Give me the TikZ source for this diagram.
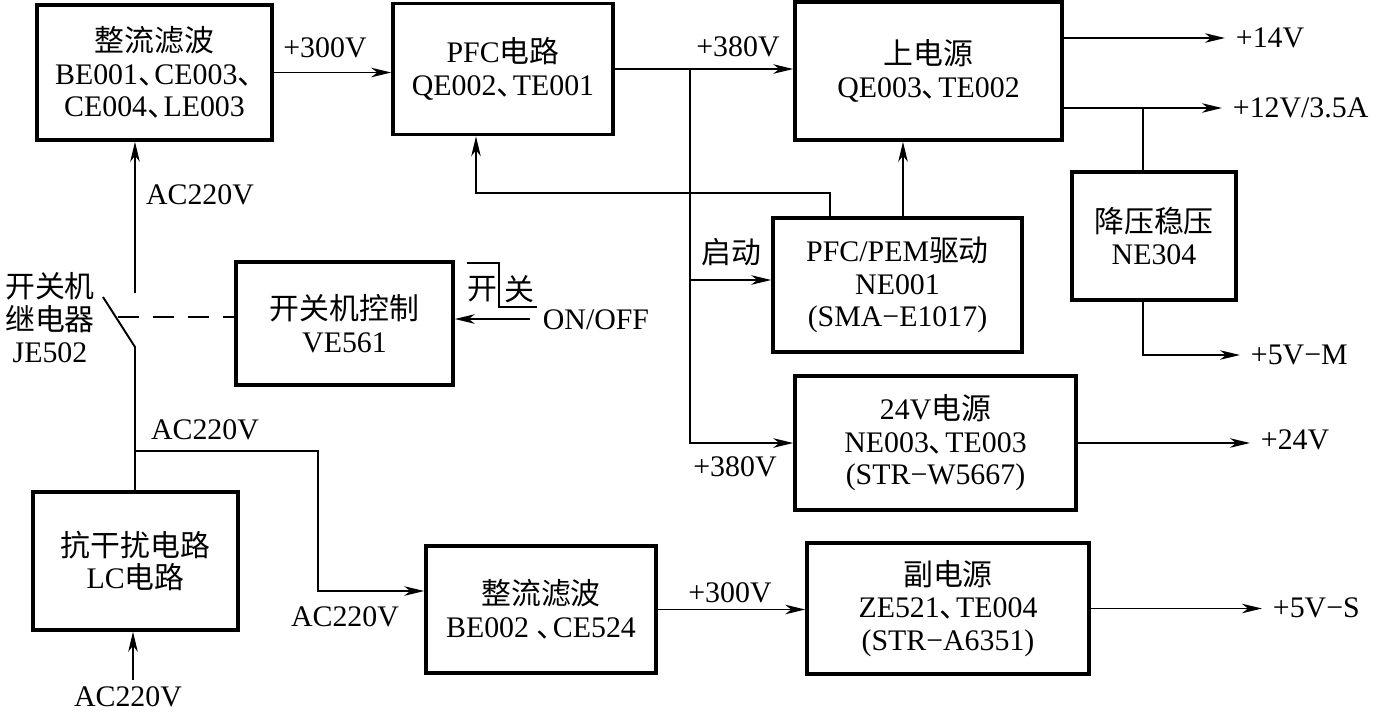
\documentclass[tikz,border=0pt]{standalone}
\usepackage{fontspec}
\setmainfont{Liberation Serif}
\newfontfamily\zh{Noto Sans CJK SC}
\usetikzlibrary{arrows.meta}
\newcommand{\dun}{\makebox[0.55em][l]{\zh 、}}

\begin{document}
\begin{tikzpicture}[
  x=0.02cm, y=-0.02cm,
  font=\fontsize{17}{18.5}\selectfont,
  box/.style={draw, line width=2pt, inner sep=0pt, align=center},
  lab/.style={inner sep=1pt},
  outlab/.style={anchor=west, inner sep=6pt},
  ln/.style={line width=1.1pt},
  ar/.style={ln, -{Stealth[length=4mm, width=1.9mm, inset=1.2mm]}}
]
\useasboundingbox (0,0) rectangle (1376,711);
\node[box, minimum width=4.7cm, minimum height=2.7cm] (rect1) at (154.5,72.5)
  {{\zh 整流滤波}\\BE001\dun CE003\dun\\CE004\dun LE003};
\node[box, minimum width=4.4cm, minimum height=2.62cm] (pfc) at (503,69)
  {PFC{\zh 电路}\\QE002\dun TE001};
\node[box, minimum width=5.34cm, minimum height=2.76cm] (main) at (928.5,71)
  {{\zh 上电源}\\QE003\dun TE002};
\node[box, minimum width=3.28cm, minimum height=2.56cm] (buck) at (1154,236)
  {{\zh 降压稳压}\\NE304};
\node[box, minimum width=4.98cm, minimum height=2.68cm] (drv) at (897.5,285)
  {PFC/PEM{\zh 驱动}\\NE001\\(SMA−E1017)};
\node[box, minimum width=4.34cm, minimum height=2.46cm] (ctrl) at (344.5,323.5)
  {{\zh 开关机控制}\\VE561};
\node[box, minimum width=5.62cm, minimum height=2.68cm] (p24) at (935.5,443)
  {24V{\zh 电源}\\NE003\dun TE003\\(STR−W5667)};
\node[box, minimum width=4.1cm, minimum height=2.76cm] (emi) at (135.5,561)
  {{\zh 抗干扰电路}\\LC{\zh 电路}};
\node[box, minimum width=4.6cm, minimum height=2.54cm] (rect2) at (541,609.5)
  {{\zh 整流滤波}\\BE002 \dun CE524};
\node[box, minimum width=5.64cm, minimum height=2.62cm] (aux) at (948,608.5)
  {{\zh 副电源}\\ZE521\dun TE004\\(STR−A6351)};

\node[lab, align=center] (relay) at (50,318) {{\zh 开关机}\\{\zh 继电器}\\JE502};
\node[lab] (ac1) at (200,195) {AC220V};
\node[lab] (ac2) at (205,430) {AC220V};
\node[lab] (ac3) at (345,617) {AC220V};
\node[lab] (ac4) at (128,697) {AC220V};
\node[lab] (v300a) at (325,48) {+300V};
\node[lab] (v380a) at (738,47) {+380V};
\node[lab] (v380b) at (735,467) {+380V};
\node[lab] (v300b) at (730,593) {+300V};
\node[lab] (start) at (731,252) {\zh 启动};
\node[lab] (onoff) at (596,320) {ON/OFF};
\node[lab] (kai) at (482,289) {\zh 开};
\node[lab] (guan) at (519,289) {\zh 关};
\node[outlab] (v14) at (1225,38) {+14V};
\node[outlab] (v12) at (1222,108) {+12V/3.5A};
\node[outlab] (v5m) at (1240,355) {+5V−M};
\node[outlab] (v24) at (1250,440) {+24V};
\node[outlab] (v5s) at (1262,608) {+5V−S};

\coordinate (swtop) at (135,293);
\coordinate (swbot) at (135,347);
\coordinate (swarm) at (103,297);
\coordinate (swdash) at (118,317);
\coordinate (split) at (135,451);
\coordinate (bend) at (318,451);
\coordinate (bendlo) at (318,591);
\coordinate (acin) at (133,680);
\coordinate (j380) at (690,69);
\coordinate (jdrv) at (690,280);
\coordinate (fbk) at (830,193);
\coordinate (fbkx) at (476,193);
\coordinate (drvup) at (903,218);
\coordinate (tap12) at (1143,107);
\coordinate (onin) at (530,319);

\draw[ar] (swtop) -- (swtop |- rect1.south);
\draw[ln] (swarm) -- (swbot) -- (swbot |- emi.north);
\draw[ln, dash pattern=on 12pt off 8pt] (swdash) -- (swdash -| ctrl.west);
\draw[ar] (onin) -- (onin -| ctrl.east);
\draw[ln] (467,263) -- (499,263) -- (499,307) -- (537,307);
\draw[ar] (acin) -- (acin |- emi.south);
\draw[ar] (split) -- (bend) -- (bendlo) -- (bendlo -| rect2.west);
\draw[ar] (rect1.east) -- (rect1.east -| pfc.west);
\draw[ar] (pfc.east) -- (pfc.east -| main.west);
\draw[ar] (j380) |- (p24.west);
\draw[ar] (jdrv) -- (jdrv -| drv.west);
\draw[ar] (fbk |- drv.north) -- (fbk) -- (fbkx) -- (fbkx |- pfc.south);
\draw[ar] (drvup) -- (drvup |- main.south);
\draw[ar] (v14.west -| main.east) -- (v14.west);
\draw[ar] (v12.west -| main.east) -- (v12.west);
\draw[line width=0.6pt] (tap12) -- (tap12 |- buck.north);
\draw[ar] (tap12 |- buck.south) |- (v5m.west);
\draw[ar] (p24.east) -- (p24.east -| v24.west);
\draw[ar] (rect2.east) -- (rect2.east -| aux.west);
\draw[ar] (aux.east) -- (aux.east -| v5s.west);
\end{tikzpicture}
\end{document}
